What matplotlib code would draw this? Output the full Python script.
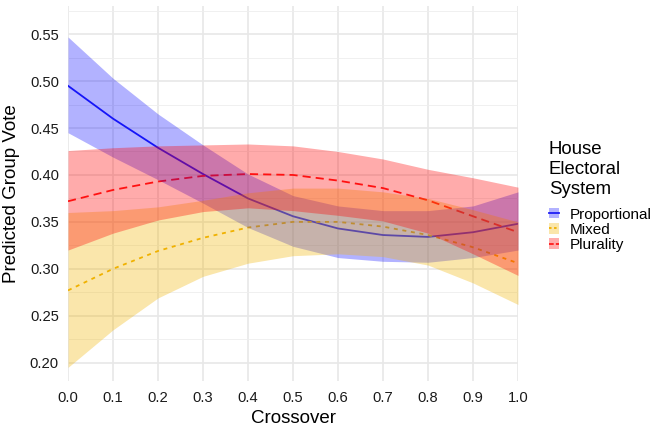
import numpy as np
import matplotlib
matplotlib.use("Agg")
import matplotlib.pyplot as plt
from matplotlib.patches import Rectangle
from matplotlib.lines import Line2D

plt.rcParams['font.family'] = ['Liberation Sans', 'DejaVu Sans']

# predicted values
crossover = [0.0, 0.1, 0.2, 0.3, 0.4, 0.5, 0.6, 0.7, 0.8, 0.9, 1.0]

prop_fit = [0.495, 0.460, 0.429, 0.401, 0.375, 0.356, 0.343, 0.336, 0.334, 0.339, 0.348]
prop_hi = [0.547, 0.503, 0.465, 0.432, 0.401, 0.378, 0.367, 0.362, 0.362, 0.367, 0.382]
prop_lo = [0.445, 0.419, 0.395, 0.370, 0.344, 0.324, 0.312, 0.308, 0.307, 0.312, 0.320]

mixed_fit = [0.277, 0.300, 0.319, 0.333, 0.344, 0.350, 0.350, 0.345, 0.336, 0.323, 0.306]
mixed_hi = [0.360, 0.362, 0.366, 0.373, 0.381, 0.386, 0.386, 0.382, 0.375, 0.363, 0.350]
mixed_lo = [0.195, 0.235, 0.269, 0.292, 0.306, 0.314, 0.316, 0.313, 0.304, 0.285, 0.262]

plur_fit = [0.372, 0.384, 0.393, 0.399, 0.401, 0.400, 0.394, 0.386, 0.373, 0.356, 0.339]
plur_hi = [0.426, 0.429, 0.431, 0.432, 0.433, 0.431, 0.425, 0.417, 0.406, 0.397, 0.387]
plur_lo = [0.320, 0.338, 0.352, 0.361, 0.365, 0.362, 0.357, 0.351, 0.338, 0.316, 0.293]

systems = ['Proportional', 'Mixed', 'Plurality']
fits = [prop_fit, mixed_fit, plur_fit]
highs = [prop_hi, mixed_hi, plur_hi]
lows = [prop_lo, mixed_lo, plur_lo]
line_cols = ['#1f1ff5', '#f0b000', '#ff1a1a']
fill_cols = ['#0000ff', '#f0b400', '#ff0000']
fill_alpha = [0.30, 0.33, 0.33]
dash_pats = [None, (2.2, 2.6), (4.5, 2.8)]

W, H = 657, 430
fig = plt.figure(figsize=(W / 100, H / 100), dpi=100)
ax = fig.add_axes([68 / W, 1 - 381 / H, 450 / W, 375 / H])

# lines go underneath the ribbons, like in the original
for i in range(3):
    ln, = ax.plot(crossover, fits[i], color=line_cols[i], lw=1.3, zorder=2)
    if dash_pats[i] is not None:
        ln.set_dashes(dash_pats[i])
for i in range(3):
    ax.fill_between(crossover, lows[i], highs[i], color=fill_cols[i],
                    alpha=fill_alpha[i], lw=0, zorder=3 + i)

ax.set_xlim(0, 1)
ax.set_ylim(0.1805, 0.580)
ax.set_xticks(np.arange(0, 1.01, 0.1))
ax.set_xticklabels([f'{v:.1f}' for v in np.arange(0, 1.01, 0.1)])
ax.set_yticks(np.arange(0.20, 0.551, 0.05))
ax.set_yticklabels([f'{v:.2f}' for v in np.arange(0.20, 0.551, 0.05)])
ax.set_yticks(np.arange(0.225, 0.58, 0.05), minor=True)

ax.grid(which='major', color='#e8e8e8', lw=1.2, zorder=0)
ax.grid(which='minor', axis='y', color='#eeeeee', lw=0.6, zorder=0)
ax.set_axisbelow(True)
for s in ax.spines.values():
    s.set_visible(False)
ax.tick_params(which='both', length=0, labelsize=10.6, labelcolor='#1a1a1a')
ax.tick_params(axis='y', pad=6.5)
ax.tick_params(axis='x', pad=7)

ax.set_xlabel('Crossover', fontsize=13.5, color='black', labelpad=4)
ax.set_ylabel('Predicted Group Vote', fontsize=13.5, color='black', labelpad=7)

# legend, drawn by hand in figure pixels
def fx(px):
    return px / W

def fy(py):
    return 1 - py / H

for txt, yc in zip(['House', 'Electoral', 'System'], [147, 167.5, 188]):
    fig.text(fx(549), fy(yc), txt, fontsize=13.4, ha='left', va='center_baseline')

key_y = [213, 228.3, 243.6]
for i in range(3):
    yc = key_y[i]
    fig.add_artist(Rectangle((fx(549), fy(yc + 5.3)), 10 / W, 10.6 / H,
                             transform=fig.transFigure, facecolor=fill_cols[i],
                             alpha=fill_alpha[i], lw=0))
    kl = Line2D([fx(549), fx(559)], [fy(yc), fy(yc)], transform=fig.transFigure,
                color=line_cols[i], lw=1.3)
    if dash_pats[i] is not None:
        kl.set_dashes((1.4, 1.4) if i == 1 else (2.6, 1.2))
    fig.add_artist(kl)
    fig.text(fx(570), fy(yc), systems[i], fontsize=11, ha='left', va='center_baseline')

fig.savefig('out.png', dpi=100)
